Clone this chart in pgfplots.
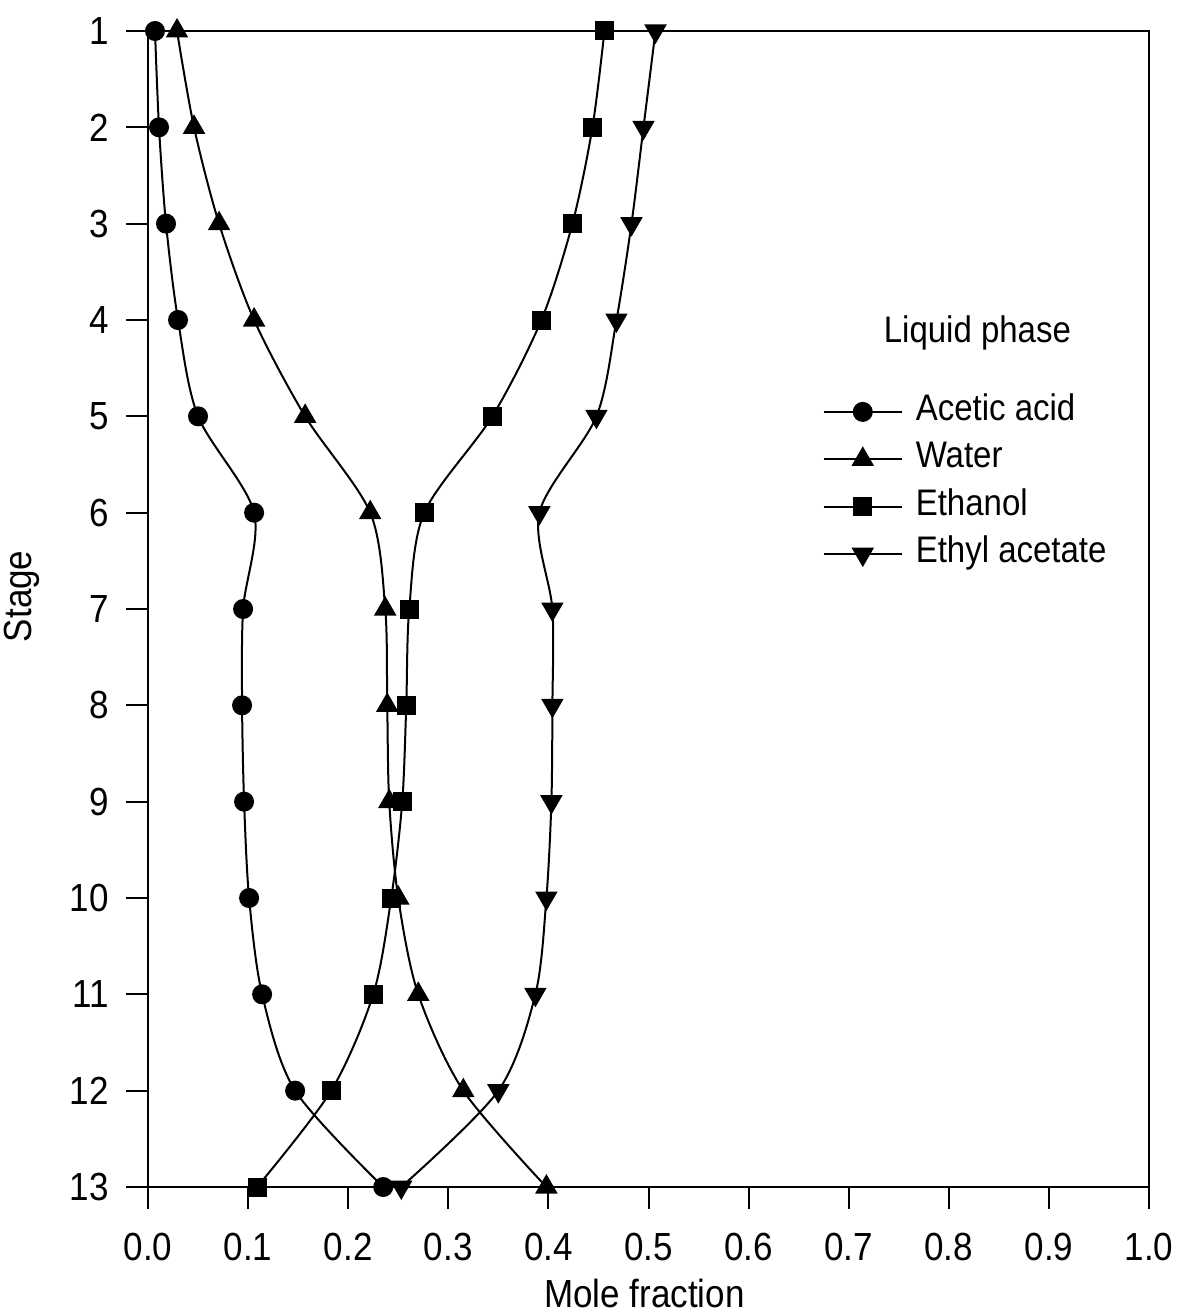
\documentclass[border=0pt]{standalone}
\usepackage{graphicx}
\usepackage{pgfplots}
\pgfplotsset{compat=1.18}
\usepackage{fontspec}
\setmainfont{Liberation Sans}
% slightly tall lettering
\newcommand\tall[1]{\scalebox{1}[1.12]{#1}}

\begin{document}
\begin{tikzpicture}
\useasboundingbox (-74pt,-64.5pt) rectangle (518pt,593.5pt);
\begin{axis}[
  at={(0,0)}, anchor=south west,
  scale only axis, width=500.5pt, height=578pt,
  xmin=0, xmax=1, ymin=1, ymax=13, y dir=reverse,
  xtick={0,0.1,0.2,0.3,0.4,0.5,0.6,0.7,0.8,0.9,1.0},
  ytick={1,2,3,4,5,6,7,8,9,10,11,12,13},
  xtick pos=bottom, ytick pos=left, tick align=outside,
  major tick length=11pt,
  every tick/.style={black, line width=1pt},
  axis line style={line width=1.2pt},
  clip=false,
  /pgf/number format/assume math mode=true,
  xticklabel={\tall{\pgfmathprintnumber[fixed,fixed zerofill,precision=1]{\tick}}},
  yticklabel={\tall{\pgfmathprintnumber{\tick}}},
  tick label style={font=\fontsize{17.5}{20}\selectfont},
  xticklabel style={anchor=north, inner sep=0pt, yshift=-12pt},
  yticklabel style={anchor=east, inner sep=0pt, xshift=-8.5pt},
  xlabel={\tall{Mole fraction}},
  ylabel={\tall{Stage}},
  label style={font=\fontsize{17.5}{20}\selectfont},
  xlabel style={at={(axis description cs:0.496,0)}, anchor=base, inner sep=0pt, yshift=-60pt},
  ylabel style={at={(axis description cs:0,0.511)}, anchor=center, inner sep=0pt, rotate=0, yshift=63pt},
  legend cell align=left,
  legend style={at={(axis cs:0.6737,5.692)}, anchor=west, draw=none, fill=none,
    inner sep=0pt, column sep=6.5pt, row sep=8.2pt,
    font=\fontsize{16.5}{19}\selectfont,
    nodes={inner sep=0pt, text height=12pt, text depth=3.5pt}},
  legend image code/.code={\draw[mark repeat=2,mark phase=2] plot coordinates {(0pt,0pt) (19.5pt,0pt) (39pt,0pt)};},
]
% acetic acid
\addplot[black, line width=1pt, smooth, mark=*, mark size=4.5pt, mark options={solid, fill=black}] coordinates {
  (0.007,1) (0.011,2) (0.018,3) (0.030,4) (0.050,5) (0.106,6) (0.095,7)
  (0.094,8) (0.096,9) (0.101,10) (0.114,11) (0.147,12) (0.235,13)};
\addlegendentry{\tall{Acetic acid}}
% water
\addplot[black, line width=1pt, smooth, mark=triangle*, mark size=5.5pt, mark options={solid, fill=black}] coordinates {
  (0.029,1) (0.046,2) (0.071,3) (0.106,4) (0.157,5) (0.222,6) (0.237,7)
  (0.239,8) (0.241,9) (0.250,10) (0.270,11) (0.315,12) (0.398,13)};
\addlegendentry{\tall{Water}}
% ethanol
\addplot[black, line width=1pt, smooth, mark=square*, mark size=4.25pt, mark options={solid, fill=black}] coordinates {
  (0.456,1) (0.444,2) (0.424,3) (0.393,4) (0.344,5) (0.276,6) (0.261,7)
  (0.258,8) (0.254,9) (0.243,10) (0.225,11) (0.183,12) (0.109,13)};
\addlegendentry{\tall{Ethanol}}
% ethyl acetate
\addplot[black, line width=1pt, smooth, mark=triangle*, mark size=5.5pt, mark options={solid, fill=black, rotate=180}] coordinates {
  (0.507,1) (0.495,2) (0.483,3) (0.468,4) (0.448,5) (0.391,6) (0.404,7)
  (0.404,8) (0.403,9) (0.398,10) (0.387,11) (0.350,12) (0.253,13)};
\addlegendentry{\tall{Ethyl acetate}}

\node[font=\fontsize{16.5}{19}\selectfont] at (axis cs:0.8286,4.134) {\tall{Liquid phase}};
\end{axis}
\end{tikzpicture}
\end{document}
